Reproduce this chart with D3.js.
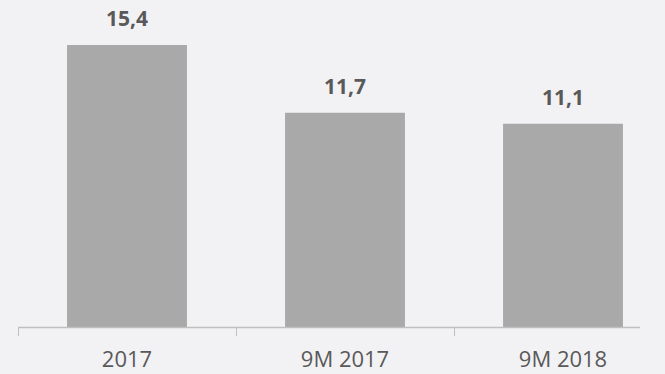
<!DOCTYPE html>
<html><head><meta charset="utf-8">
<script src="https://cdn.jsdelivr.net/npm/d3@7"></script>
<style>body{margin:0;background:#f2f2f4;}svg{display:block;}</style>
</head><body>
<script>
const categories = ["2017", "9M 2017", "9M 2018"];
const values = [15.4, 11.7, 11.1];
const labels = ["15,4", "11,7", "11,1"];

const W = 665, H = 374;
const svg = d3.select("body").append("svg").attr("width", W).attr("height", H);
svg.append("rect").attr("width", W).attr("height", H).attr("fill", "#f2f2f4");

const x = d3.scaleBand().domain(categories).range([18, 672]).paddingInner(0.45).paddingOuter(0.225);
const y = d3.scaleLinear().domain([0, 15.4]).range([327, 45]);

svg.selectAll("rect.bar").data(values).join("rect").attr("class", "bar")
  .attr("x", (d, i) => x(categories[i]))
  .attr("width", x.bandwidth())
  .attr("y", d => y(d))
  .attr("height", d => y(0) - y(d))
  .attr("fill", "#a9a9a9");

svg.selectAll("text.val").data(values).join("text").attr("class", "val")
  .attr("x", (d, i) => x(categories[i]) + x.bandwidth() / 2)
  .attr("y", d => y(d) - 19)
  .attr("text-anchor", "middle")
  .attr("font-family", "Open Sans, sans-serif")
  .attr("font-weight", "bold")
  .attr("font-size", 21)
  .attr("fill", "#595959")
  .text((d, i) => labels[i]);

// axis
const ax = svg.append("g");
ax.append("line").attr("x1", 18).attr("x2", 640).attr("y1", y(0) + 0.5).attr("y2", y(0) + 0.5)
  .attr("stroke", "#bfbfbf").attr("stroke-width", 1.5);
const step = x.step();
const tickXs = categories.map(c => x(c) - x.paddingOuter() * step);
ax.selectAll("line.tick").data(tickXs).join("line").attr("class", "tick")
  .attr("x1", d => d + 0.5).attr("x2", d => d + 0.5)
  .attr("y1", y(0)).attr("y2", y(0) + 9)
  .attr("stroke", "#bfbfbf").attr("stroke-width", 1);

svg.selectAll("text.cat").data(categories).join("text").attr("class", "cat")
  .attr("x", d => x(d) + x.bandwidth() / 2)
  .attr("y", 367)
  .attr("text-anchor", "middle")
  .attr("font-family", "Open Sans, sans-serif")
  .attr("font-size", 22)
  .attr("fill", "#595959")
  .text(d => d);
</script>
</body></html>
